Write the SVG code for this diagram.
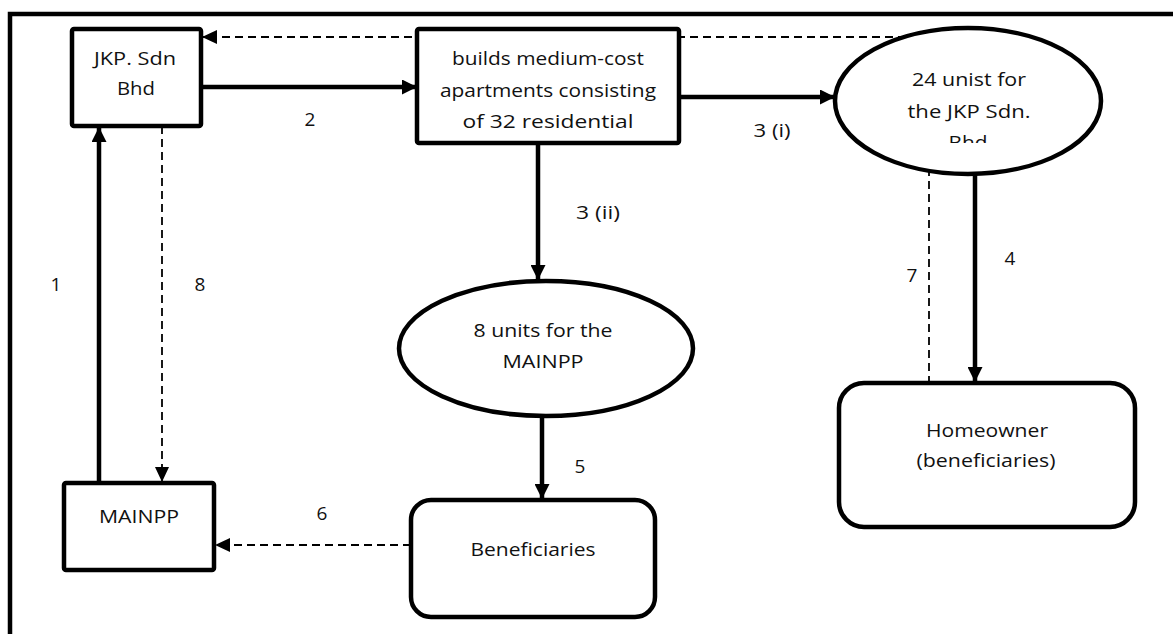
<svg xmlns="http://www.w3.org/2000/svg" width="1173" height="634" viewBox="0 0 1173 634">
  <style>
    .node { fill: #ffffff; stroke: #000000; stroke-width: 4.5; }
    .t { font-family: "Open Sans", "Liberation Sans", sans-serif; font-size: 19px; fill: #111111; text-anchor: middle; }
    .solid { fill: none; stroke: #000000; stroke-width: 4.5; }
    .dash { fill: none; stroke: #000000; stroke-width: 1.8; stroke-dasharray: 8 5; }
  </style>
  <defs>
    <marker id="ah" markerUnits="userSpaceOnUse" markerWidth="16" markerHeight="15" refX="15" refY="7.5" orient="auto">
      <path d="M0,0 L15,7.5 L0,15 z" fill="#000000"/>
    </marker>
    <marker id="ahd" markerUnits="userSpaceOnUse" markerWidth="16" markerHeight="14" refX="15" refY="7" orient="auto">
      <path d="M0,0 L15,7 L0,14 z" fill="#000000"/>
    </marker>
    <clipPath id="clipE1">
      <rect x="830" y="20" width="280" height="123"/>
    </clipPath>
  </defs>

  <rect width="1173" height="634" fill="#ffffff"/>
  <rect id="frame" x="10" y="14" width="1220" height="700" fill="none" stroke="#000000" stroke-width="4.5"/>

  <g id="connectors">
    <line class="dash" x1="945" y1="37" x2="202" y2="37" marker-end="url(#ahd)"/>
    <line class="solid" x1="201" y1="87" x2="417" y2="87" marker-end="url(#ah)"/>
    <line class="solid" x1="679" y1="97" x2="835" y2="97" marker-end="url(#ah)"/>
    <line class="solid" x1="538" y1="143" x2="538" y2="280" marker-end="url(#ah)"/>
    <line class="solid" x1="542" y1="414" x2="542" y2="499" marker-end="url(#ah)"/>
    <line class="solid" x1="975" y1="170" x2="975" y2="382" marker-end="url(#ah)"/>
    <line class="dash" x1="929" y1="168" x2="929" y2="383"/>
    <line class="dash" x1="162" y1="126" x2="162" y2="482" marker-end="url(#ahd)"/>
    <line class="solid" x1="99" y1="483" x2="99" y2="127" marker-end="url(#ah)"/>
    <line class="dash" x1="411" y1="545" x2="215" y2="545" marker-end="url(#ahd)"/>
  </g>

  <g id="labels">
    <text class="t" x="310" y="126">2</text>
    <text class="t" x="772" y="137" textLength="37" lengthAdjust="spacingAndGlyphs">3 (i)</text>
    <text class="t" x="598" y="219" textLength="44" lengthAdjust="spacingAndGlyphs">3 (ii)</text>
    <text class="t" x="56" y="291">1</text>
    <text class="t" x="200" y="291">8</text>
    <text class="t" x="912" y="282">7</text>
    <text class="t" x="1010" y="265">4</text>
    <text class="t" x="580" y="473">5</text>
    <text class="t" x="322" y="520">6</text>
  </g>

  <g id="jkp">
    <rect class="node" x="72" y="29" width="129" height="97" rx="2"/>
    <text class="t" x="135" y="65" textLength="82" lengthAdjust="spacingAndGlyphs">JKP. Sdn</text>
    <text class="t" x="136" y="95" textLength="38" lengthAdjust="spacingAndGlyphs">Bhd</text>
  </g>

  <g id="builds">
    <rect class="node" x="417" y="29" width="262" height="114" rx="2"/>
    <text class="t" x="548" y="65" textLength="192" lengthAdjust="spacingAndGlyphs">builds medium-cost</text>
    <text class="t" x="548" y="97" textLength="216" lengthAdjust="spacingAndGlyphs">apartments consisting</text>
    <text class="t" x="548" y="128" textLength="171" lengthAdjust="spacingAndGlyphs">of 32 residential</text>
  </g>

  <g id="units24">
    <ellipse class="node" cx="968" cy="101" rx="133" ry="73"/>
    <text class="t" x="969" y="86" textLength="114" lengthAdjust="spacingAndGlyphs">24 unist for</text>
    <text class="t" x="969" y="118" textLength="123" lengthAdjust="spacingAndGlyphs">the JKP Sdn.</text>
    <text class="t" x="968" y="149" textLength="39" lengthAdjust="spacingAndGlyphs" clip-path="url(#clipE1)">Bhd</text>
  </g>

  <g id="units8">
    <ellipse class="node" cx="546" cy="348.5" rx="147" ry="67.5"/>
    <text class="t" x="543" y="337" textLength="139" lengthAdjust="spacingAndGlyphs">8 units for the</text>
    <text class="t" x="543" y="368" textLength="81" lengthAdjust="spacingAndGlyphs">MAINPP</text>
  </g>

  <g id="mainpp">
    <rect class="node" x="64" y="483" width="150" height="87" rx="2"/>
    <text class="t" x="139" y="523" textLength="80" lengthAdjust="spacingAndGlyphs">MAINPP</text>
  </g>

  <g id="beneficiaries">
    <rect class="node" x="411" y="500" width="244" height="117" rx="20"/>
    <text class="t" x="533" y="556" textLength="125" lengthAdjust="spacingAndGlyphs">Beneficiaries</text>
  </g>

  <g id="homeowner">
    <rect class="node" x="839" y="383" width="296" height="144" rx="25"/>
    <text class="t" x="987" y="437" textLength="122" lengthAdjust="spacingAndGlyphs">Homeowner</text>
    <text class="t" x="986" y="467" textLength="139" lengthAdjust="spacingAndGlyphs">(beneficiaries)</text>
  </g>
</svg>
